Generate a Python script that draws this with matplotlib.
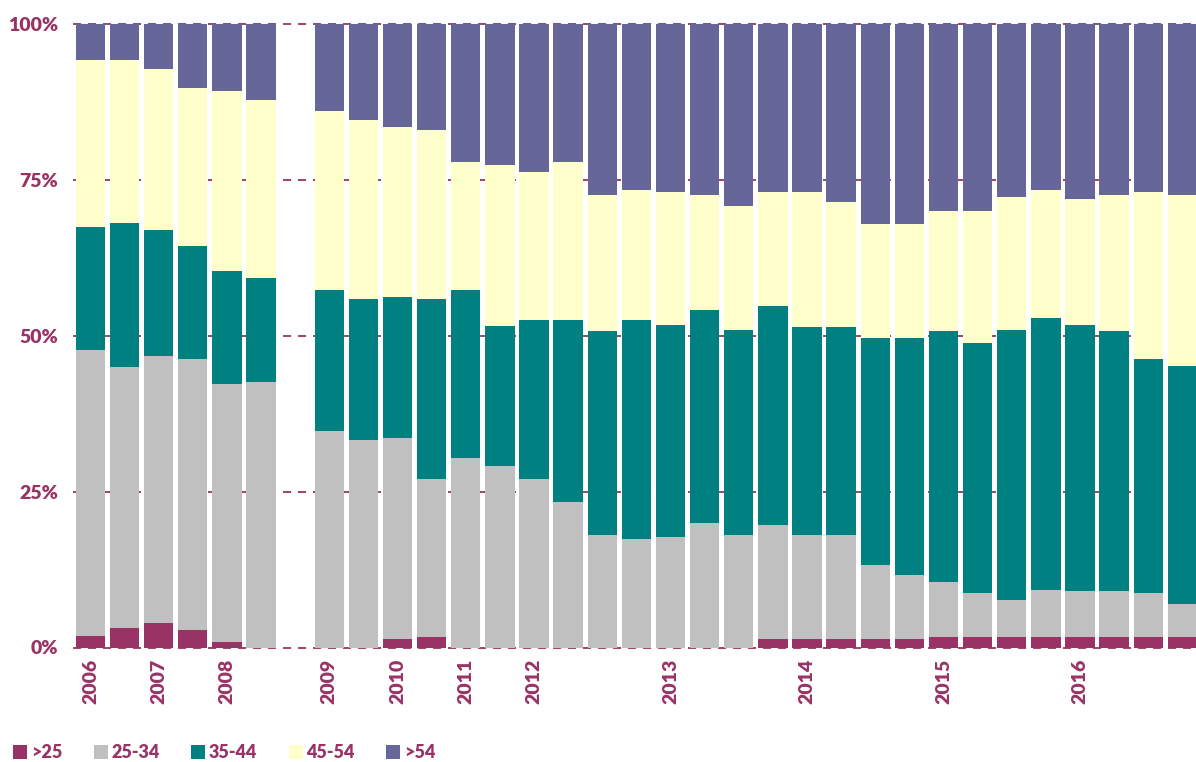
import matplotlib
matplotlib.use("Agg")
import matplotlib.pyplot as plt
import numpy as np

# ---- data (percent shares per bar) ----
series_names = [">25", "25-34", "35-44", "45-54", ">54"]
colors = ["#993366", "#C0C0C0", "#008080", "#FFFFCC", "#666699"]

# bar slots (slot 6 is an empty gap)
slots = [0, 1, 2, 3, 4, 5,
         7, 8, 9, 10, 11, 12,
         13, 14, 15, 16,
         17, 18, 19, 20,
         21, 22, 23, 24,
         25, 26, 27, 28,
         29, 30, 31, 32]

under25 = [1.8, 3.1, 3.9, 2.8, 0.9, 0.0,
           0.0, 0.0, 1.4, 1.7, 0.0, 0.0,
           0.0, 0.0, 0.0, 0.0,
           0.0, 0.0, 0.0, 1.4,
           1.4, 1.4, 1.4, 1.4,
           1.7, 1.7, 1.7, 1.7,
           1.7, 1.7, 1.7, 1.7]
age25_34 = [45.9, 41.8, 42.8, 43.5, 41.3, 42.6,
            34.7, 33.3, 32.2, 25.3, 30.4, 29.1,
            27.0, 23.3, 18.0, 17.4,
            17.7, 20.0, 18.0, 18.2,
            16.6, 16.6, 11.8, 10.2,
            8.8, 7.0, 5.9, 7.5,
            7.4, 7.4, 7.0, 5.3]
age35_44 = [19.7, 23.2, 20.2, 18.1, 18.2, 16.6,
            22.6, 22.6, 22.6, 28.9, 26.9, 22.4,
            25.5, 29.2, 32.7, 35.1,
            34.0, 34.1, 32.9, 35.1,
            33.4, 33.4, 36.4, 38.0,
            40.2, 40.1, 43.3, 43.6,
            42.6, 41.6, 37.5, 38.1]
age45_54 = [26.8, 26.1, 25.8, 25.3, 28.8, 28.6,
            28.7, 28.7, 27.2, 27.1, 20.5, 25.8,
            23.7, 25.3, 21.8, 20.8,
            21.3, 18.4, 19.9, 18.3,
            21.6, 20.0, 18.3, 18.3,
            19.3, 21.2, 21.3, 20.5,
            20.2, 21.8, 26.8, 27.4]
over54 = [5.8, 5.8, 7.3, 10.3, 10.8, 12.2,
          14.0, 15.4, 16.6, 17.0, 22.2, 22.7,
          23.8, 22.2, 27.5, 26.7,
          27.0, 27.5, 29.2, 27.0,
          27.0, 28.6, 32.1, 32.1,
          30.0, 30.0, 27.8, 26.7,
          28.1, 27.5, 27.0, 27.5]

year_labels = ["2006", "2007", "2008", "2009", "2010", "2011",
               "2012", "2013", "2014", "2015", "2016"]
year_slots = [0, 2, 4, 7, 9, 11, 13, 17, 21, 25, 29]

# ---- styling ----
plt.rcParams["font.family"] = ["Lato", "DejaVu Sans"]
plt.rcParams["lines.scale_dashes"] = False
txt_color = "#993366"
fs = 14
W, H = 1196, 762
fig = plt.figure(figsize=(W / 100, H / 100), dpi=100)
left_px, right_px = 73.4, 1196
top_px, bottom_px = 23.7, 647.5
ax = fig.add_axes([left_px / W, 1 - bottom_px / H,
                   (right_px - left_px) / W, (bottom_px - top_px) / H])

data = [under25, age25_34, age35_44, age45_54, over54]
x = np.array(slots, dtype=float)
bottom = np.zeros(len(slots))
for name, vals, col in zip(series_names, data, colors):
    v = np.array(vals)
    ax.bar(x, v, width=0.86, bottom=bottom, color=col, label=name,
           zorder=3, linewidth=0)
    bottom += v

ax.set_xlim(-0.5, 32.4)
ax.set_ylim(0, 100)

# gridlines
for yv in [0, 25, 50, 75, 100]:
    ax.axhline(yv, color=txt_color, lw=1.3, dashes=(5.8, 5.0), zorder=1,
               clip_on=False)

ax.set_yticks([0, 25, 50, 75, 100])
ax.set_yticklabels([f"{v}%" for v in [0, 25, 50, 75, 100]])
ax.set_xticks(year_slots)
ax.set_xticklabels(year_labels, rotation=90)
ax.tick_params(axis="y", length=0, pad=11, labelsize=fs, labelcolor=txt_color)
ax.tick_params(axis="x", length=0, pad=8, labelsize=fs, labelcolor=txt_color)
for lab in ax.get_xticklabels() + ax.get_yticklabels():
    lab.set_fontweight("heavy")
for s in ax.spines.values():
    s.set_visible(False)

leg = fig.legend(loc="lower left", bbox_to_anchor=(13 / W, 1 / H),
                 ncol=5, frameon=False,
                 handlelength=0.78, handleheight=0.78, handletextpad=0.2,
                 columnspacing=1.75, borderpad=0, borderaxespad=0,
                 labelcolor=txt_color, prop={"weight": "heavy", "size": 13})

fig.savefig("out.png", dpi=100)
